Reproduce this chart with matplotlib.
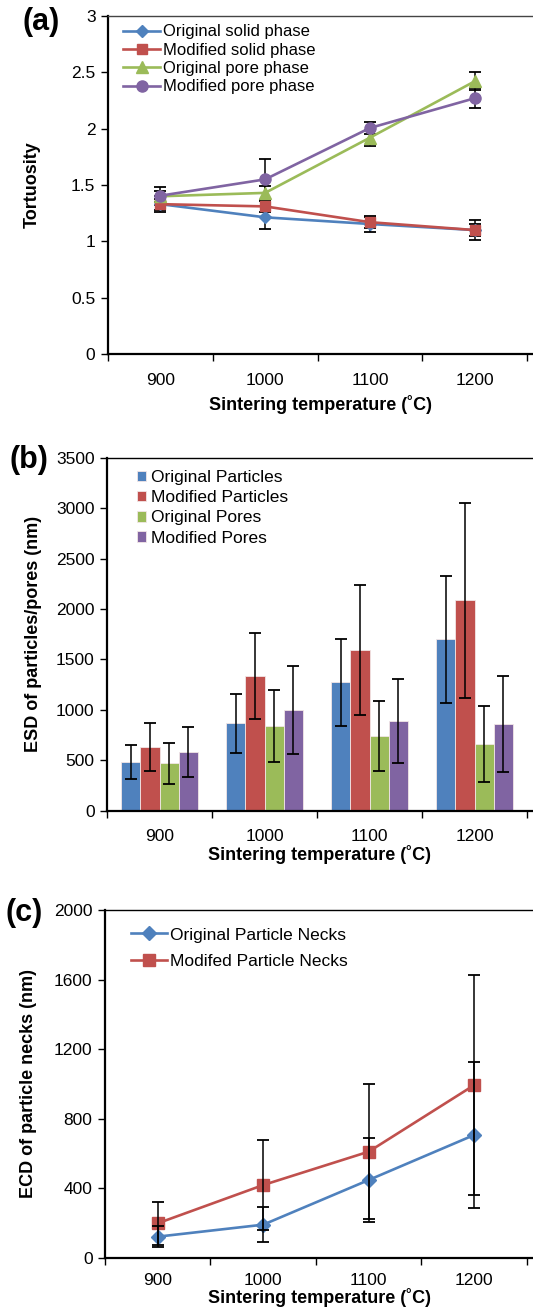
import numpy as np
import matplotlib
matplotlib.use("Agg")
import matplotlib.pyplot as plt

plt.rcParams['font.family'] = ['Liberation Sans', 'DejaVu Sans']

temps = ["900", "1000", "1100", "1200"]

#tortuosity
orig_solid = [1.33, 1.213, 1.154, 1.10]
orig_solid_err = [0.05, 0.10, 0.07, 0.05]
mod_solid = [1.33, 1.31, 1.17, 1.10]
mod_solid_err = [0.07, 0.05, 0.05, 0.09]
orig_pore = [1.40, 1.43, 1.92, 2.42]
orig_pore_err = [0.05, 0.06, 0.07, 0.08]
mod_pore = [1.405, 1.55, 2.006, 2.27]
mod_pore_err = [0.08, 0.18, 0.05, 0.09]

#ESD of particles and pores (nm)
orig_particles = [482, 866, 1272, 1702]
orig_particles_err = [165, 290, 428, 630]
mod_particles = [631, 1332, 1593, 2085]
mod_particles_err = [240, 427, 645, 967]
orig_pores = [469, 839, 740, 658]
orig_pores_err = [205, 357, 350, 377]
mod_pores = [585, 995, 889, 859]
mod_pores_err = [248, 437, 412, 476]

#ECD of particle necks (nm)
orig_necks = [121, 190, 447, 706]
orig_necks_err = [60, 100, 244, 418]
mod_necks = [198, 418, 610, 993]
mod_necks_err = [124, 259, 389, 633]

blue = '#4F81BD'
red = '#C0504D'
green = '#9BBB59'
purple = '#8064A2'

x = np.arange(1, len(temps) + 1)
W, H = 533, 1311


def setup_axes(ax, ymax, yticks, tick_pad=14, label_pad=3):
    ax.set_xlim(0.5, 4.557)
    ax.set_ylim(0, ymax)
    ax.set_yticks(yticks)
    ax.set_xticks([0.5, 1.5, 2.5, 3.5, 4.5])
    ax.set_xticklabels([])
    ax.set_xticks(x, minor=True)
    ax.set_xticklabels(temps, minor=True)
    ax.tick_params(axis='x', which='minor', length=0, pad=tick_pad, labelsize=12.5)
    ax.tick_params(axis='x', which='major', direction='out', length=5, width=1)
    ax.tick_params(axis='y', direction='out', length=5, width=1, pad=4, labelsize=12.5)
    ax.spines['right'].set_visible(False)
    ax.spines['left'].set_linewidth(1.6)
    ax.spines['bottom'].set_linewidth(1.6)
    ax.spines['top'].set_linewidth(1.0)
    ax.set_xlabel("Sintering temperature (˚C)", fontsize=13, fontweight='bold', labelpad=label_pad)


fig = plt.figure(figsize=(W / 100, H / 100), dpi=100)

#(a) tortuosity vs sintering temperature
ax1 = fig.add_axes([108 / W, 1 - 354 / H, 1 - 108 / W, 338 / H])
series_a = [
    (orig_solid, orig_solid_err, blue, 'D', 6, "Original solid phase"),
    (mod_solid, mod_solid_err, red, 's', 7.5, "Modified solid phase"),
    (orig_pore, orig_pore_err, green, '^', 8, "Original pore phase"),
    (mod_pore, mod_pore_err, purple, 'o', 8, "Modified pore phase"),
]
for vals, err, c, m, ms, lab in series_a:
    ax1.errorbar(x, vals, yerr=err, fmt='none', ecolor='black', elinewidth=1.1,
                 capsize=4, capthick=1.3, zorder=2)
for vals, err, c, m, ms, lab in series_a:
    ax1.plot(x, vals, color=c, marker=m, markersize=ms, linewidth=1.9, label=lab, zorder=3)
setup_axes(ax1, 3, [0, 0.5, 1, 1.5, 2, 2.5, 3], label_pad=5)
ax1.set_yticklabels(["0", "0.5", "1", "1.5", "2", "2.5", "3"])
ax1.spines['top'].set_color('#444444')
ax1.set_ylabel("Tortuosity", fontsize=13, fontweight='bold', labelpad=22)
ax1.legend(loc='upper left', bbox_to_anchor=(0.035, 0.975), frameon=False, fontsize=12,
           borderpad=0, labelspacing=0.2, handlelength=2.25, handletextpad=0.15,
           borderaxespad=0)

#(b) bar chart of particle and pore sizes
ax2 = fig.add_axes([107 / W, 1 - 810.7 / H, 1 - 107 / W, 353 / H])
bw = 0.182
series_b = [
    (orig_particles, orig_particles_err, blue, "Original Particles"),
    (mod_particles, mod_particles_err, red, "Modified Particles"),
    (orig_pores, orig_pores_err, green, "Original Pores"),
    (mod_pores, mod_pores_err, purple, "Modified Pores"),
]
for i, (vals, err, c, lab) in enumerate(series_b):
    pos = x + (i - 1.5) * bw
    ax2.bar(pos, vals, width=bw, color=c, edgecolor='#f2e6e6', linewidth=0.6, label=lab, zorder=2)
    ax2.errorbar(pos, vals, yerr=err, fmt='none', ecolor='black', elinewidth=1.1,
                 capsize=4, capthick=1.3, zorder=3)
setup_axes(ax2, 3500, np.arange(0, 3501, 500), tick_pad=13, label_pad=1)
ax2.set_ylabel("ESD of particles/pores (nm)", fontsize=13, fontweight='bold', labelpad=10)
ax2.legend(loc='upper left', bbox_to_anchor=(0.07, 0.965), frameon=False, fontsize=12.5,
           borderpad=0, labelspacing=0.3, handlelength=0.55, handleheight=0.55,
           handletextpad=0.25, borderaxespad=0)

#(c) particle neck size
ax3 = fig.add_axes([105 / W, 1 - 1257.7 / H, 1 - 105 / W, 347.7 / H])
ax3.plot(x, orig_necks, color=blue, marker='D', markersize=7, linewidth=1.9,
         label="Original Particle Necks", zorder=2)
ax3.plot(x, mod_necks, color=red, marker='s', markersize=8.5, linewidth=1.9,
         label="Modifed Particle Necks", zorder=2)
ax3.errorbar(x, orig_necks, yerr=orig_necks_err, fmt='none', ecolor='black', elinewidth=1.1,
             capsize=4, capthick=1.3, zorder=3)
ax3.errorbar(x, mod_necks, yerr=mod_necks_err, fmt='none', ecolor='black', elinewidth=1.1,
             capsize=4, capthick=1.3, zorder=3)
setup_axes(ax3, 2000, [0, 400, 800, 1200, 1600, 2000], tick_pad=11, label_pad=0)
ax3.set_ylabel("ECD of particle necks (nm)", fontsize=13, fontweight='bold', labelpad=12)
ax3.legend(loc='upper left', bbox_to_anchor=(0.06, 0.95), frameon=False, fontsize=12.5,
           borderpad=0, labelspacing=0.65, handlelength=2.1, handletextpad=0.15,
           borderaxespad=0)

#panel letters
fig.text(41 / W, 1 - 22 / H, "(a)", fontsize=22, fontweight='bold', ha='center', va='center')
fig.text(29 / W, 1 - 460 / H, "(b)", fontsize=22, fontweight='bold', ha='center', va='center')
fig.text(24 / W, 1 - 913 / H, "(c)", fontsize=22, fontweight='bold', ha='center', va='center')

fig.savefig("out.png", dpi=100)
